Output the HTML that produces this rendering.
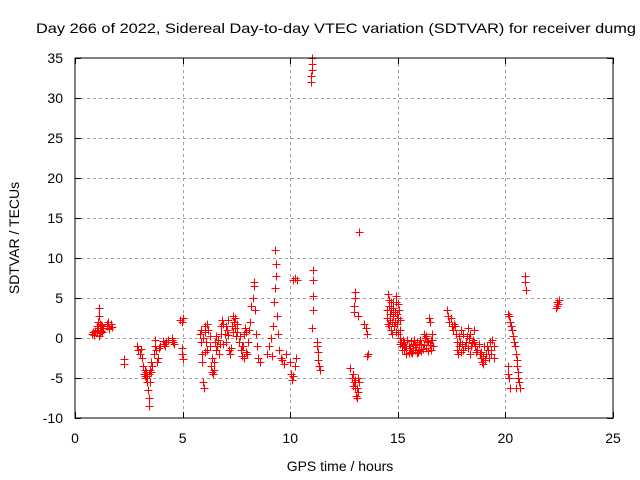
<!DOCTYPE html>
<html><head><meta charset="utf-8"><style>
html,body{margin:0;padding:0;background:#fff;}
svg{display:block;font-family:"Liberation Sans",Arial,sans-serif;}
</style></head><body>
<svg id="chart" width="640" height="480" viewBox="0 0 640 480">
<rect width="640" height="480" fill="#fff"/>
<text x="36" y="33" font-size="14" textLength="600" lengthAdjust="spacingAndGlyphs">Day 266 of 2022, Sidereal Day-to-day VTEC variation (SDTVAR) for receiver dumg</text>
<g id="grid"></g>
<g id="ticks"></g>
<g id="pts"></g>
<rect x="75" y="58" width="538" height="360" fill="none" stroke="#000" stroke-width="1"/>
<text x="340" y="471" font-size="14" text-anchor="middle">GPS time / hours</text>
<text transform="translate(19,238) rotate(-90)" font-size="14" text-anchor="middle">SDTVAR / TECUs</text>
</svg>
<script>
const xTicks=[0,5,10,15,20,25];
const yTicks=[-10,-5,0,5,10,15,20,25,30,35];
const hours=[0.80,0.85,0.9,0.95,1.0,1.02,1.05,1.08,1.1,1.12,1.15,1.18,1.2,1.25,1.3,1.5,1.55,1.6,1.65,1.7,
2.3,2.3,
2.9,2.95,3.0,3.05,3.1,3.15,3.2,3.25,3.3,3.35,3.4,3.42,3.45,3.5,3.55,3.6,3.65,3.7,3.72,3.75,3.8,3.85,3.9,3.95,
4.1,4.15,4.2,4.25,4.3,4.5,4.55,4.6,4.52,
4.9,4.95,5.0,4.95,4.98,5.0,
5.8,5.85,5.9,5.92,5.95,6.0,6.02,6.05,6.1,6.15,6.2,6.25,6.3,6.35,6.4,6.45,6.5,6.55,
6.6,6.7,6.75,6.8,6.85,6.9,6.95,7.0,7.05,7.1,7.15,7.2,7.3,7.35,7.4,7.45,7.5,7.55,7.6,7.7,7.75,7.8,7.85,7.9,7.95,
8.0,8.05,8.1,8.15,8.2,8.25,8.3,8.32,8.35,8.4,8.45,8.5,8.6,8.9,9.0,9.1,9.15,9.2,9.25,9.3,9.32,9.35,9.3,9.4,9.45,9.5,9.55,9.6,9.7,9.8,
10.0,10.05,10.1,10.15,10.2,10.25,10.15,10.22,10.3,
10.95,10.97,11.0,11.0,11.02,11.05,11.05,11.05,11.05,11.0,11.25,11.3,11.3,11.35,11.4,11.25,
12.8,12.85,12.9,12.95,13.0,13.05,13.1,13.15,13.2,13.0,13.0,12.95,12.97,13.15,13.2,13.45,13.5,13.55,13.55,13.6,
14.5,14.55,14.6,14.65,14.7,14.75,14.8,14.85,14.9,14.95,15.0,15.05,15.1,15.15,15.2,15.3,15.4,15.5,15.6,15.7,15.8,15.9,16.0,16.1,16.2,16.3,16.4,16.45,16.5,16.55,16.6,16.65,
14.6,14.7,14.8,14.9,15.0,15.1,15.25,15.35,15.45,15.55,15.65,15.75,15.85,15.95,16.05,16.15,16.25,16.35,16.55,
17.3,17.35,17.4,17.5,17.6,17.7,17.75,17.8,17.85,17.9,17.95,18.0,18.05,18.1,18.2,18.25,18.3,18.35,18.4,18.5,18.55,18.6,18.7,18.8,18.85,18.9,18.95,19.0,19.1,19.2,19.3,19.35,19.4,19.45,
20.1,20.15,20.2,20.25,20.3,20.35,20.4,20.45,20.5,20.52,20.55,20.6,20.65,20.7,20.6,20.1,20.12,20.15,20.2,20.5,20.9,20.92,20.95,
22.35,22.4,22.45,22.5,22.42,
14.52,14.55,14.58,14.62,14.68,14.72,14.78,14.82,14.88,14.92,14.97,15.02,15.08,15.12,15.18,15.22,
15.3,15.4,15.5,15.6,15.7,15.8,15.9,16.0,16.1,16.2,16.3,16.4,16.5,16.6,
17.45,17.55,17.65,17.75,17.85,17.95,18.05,18.15,18.25,18.35,18.45,18.55,18.65,18.75,18.85,18.95,19.05,19.15,19.25,19.35,19.45,
5.85,5.95,6.05,6.15,6.25,6.35,6.45,6.55,6.65,6.8,6.9,7.0,7.1,7.25,7.35,7.45,7.55,7.65,7.75,7.85,7.95,
3.25,3.3,3.35,3.45,3.5,3.55,
1.0,1.05,1.1,1.15,1.2,1.25,1.5,1.6,
12.9,13.0,13.1,13.15];
const sdtvar=[0.5,0.7,0.4,0.9,1.0,1.5,2.0,1.2,3.8,2.8,1.8,0.6,1.6,0.8,1.2,1.5,2.0,1.3,1.7,1.4,
-2.6,-3.2,
-1.0,-1.5,-2.0,-1.4,-2.5,-3.5,-4.5,-4.0,-5.0,-4.8,-6.5,-8.5,-7.5,-5.5,-4.2,-3.5,-2.0,-1.0,-0.3,-1.5,-3.0,-2.5,-1.2,-1.0,
-0.4,-0.8,-1.0,-0.5,-0.2,0,-0.5,-0.8,-0.2,
2.3,2.0,2.5,-1.2,-2.0,-2.6,
0.5,-0.5,-2.0,-3.0,-5.5,-6.3,1.5,0.8,-0.5,-1.5,1.0,0.2,-3.5,-4.2,-4.5,-3.0,-0.5,0.3,
-1.0,-2.0,-0.8,1.5,2.2,1.8,0.5,-0.5,1.0,0.4,-1.5,-2.0,1.5,2.8,2.0,1.2,0.2,0.8,-0.5,-1.5,-2.2,-1.0,0.5,1.2,-1.8,
-2.0,-0.5,1.0,2.0,4.0,5.0,6.5,7.0,3.5,0.5,-1.0,-2.5,-3.0,-2.0,-1.0,0,-2.2,1.5,4.5,6.2,7.8,9.2,11.0,2.7,0.5,-1.5,-2.5,-2.8,-3.2,-2.0,
-3.0,-4.5,-5.2,-4.8,-3.5,-2.5,7.2,7.5,7.3,
32.0,32.8,33.5,34.3,35.0,8.5,7.2,5.2,3.5,1.3,-1.0,-1.8,-2.8,-3.5,-4.0,-0.5,
-3.8,-5.0,-6.0,-5.5,-6.2,-7.2,-7.5,-6.8,-5.5,5.8,5.0,4.0,3.2,2.8,13.3,1.8,1.2,0.5,-2.3,-2.0,
2.5,5.5,4.0,3.0,1.0,0.5,4.5,2.0,5.3,3.0,2.5,3.5,1.0,-0.5,-1.0,-1.5,-2.0,-1.0,-1.8,-0.8,-1.5,-0.5,-1.5,-0.8,0.5,-1.2,-0.5,2.5,2.0,-0.3,0.5,-1.0,
1.5,3.5,2.8,0.8,4.2,0,-0.8,-1.0,-0.3,-1.2,-1.9,-0.2,-1.1,-1.8,-0.3,-1.4,0,-0.4,-1.5,
3.5,2.8,2.0,1.5,1.8,0.5,-1.5,-2.0,0.2,-0.5,1.0,-0.8,-1.5,-1.0,0.2,1.2,0,-2.0,-1.0,-0.2,1.0,-1.0,-1.5,-2.0,-2.5,-3.0,-2.2,-1.0,-2.0,-1.5,-0.5,-1.5,-0.2,-2.5,
3.0,2.8,2.0,1.5,1.0,0.2,-0.5,-1.0,-2.0,-2.8,-3.5,-4.2,-5.5,-6.3,-5.0,-3.5,-4.5,-5.0,-6.2,-6.3,7.8,7.0,6.0,
3.8,4.5,4.2,4.8,4.0,
3.5,1.8,4.8,2.2,4.5,2.0,3.8,1.5,3.2,4.5,1.8,0.5,2.2,-0.8,-1.5,-0.2,
-0.5,-1.3,-1.9,-0.4,-1.5,-0.9,-1.9,-0.7,-1.6,-0.9,0.2,-1.6,-0.9,-0.2,
2.5,1.0,1.5,-0.5,-1.0,-1.8,0.5,-0.5,-1.2,0.5,-0.6,-0.5,-1.8,-0.8,-1.8,-3.2,-2.8,-1.0,-2.5,-2.0,-1.0,
1.0,0,-1.8,1.8,-1.0,-2.5,-4.0,-1.5,-0.2,0.5,-0.8,1.5,2.2,-1.2,0.8,2.5,1.8,0.2,-1.0,-2.5,0.8,
-4.8,-4.2,-5.5,-4.5,-4.0,-3.0,
0.8,1.2,0.3,1.0,0.9,1.5,1.8,1.1,
-4.5,-5.2,-6.3,-5.0];

const NS="http://www.w3.org/2000/svg";
const X0=75,X1=613,Y0=418,Y1=58;
function xs(v){return X0+(v-0)/(25-0)*(X1-X0);}
function ys(v){return Y0-(v+10)/(35+10)*(Y0-Y1);}
function mk(tag,attrs,parent){const e=document.createElementNS(NS,tag);for(const k in attrs)e.setAttribute(k,attrs[k]);parent.appendChild(e);return e;}
const grid=document.getElementById('grid'),ticks=document.getElementById('ticks'),pts=document.getElementById('pts');
xTicks.forEach(t=>{
  const x=Math.round(xs(t))+0.5;
  if(t>0&&t<25){const g=mk('line',{x1:x,x2:x,y1:Y1,y2:Y0,stroke:'#a0a0a0','stroke-dasharray':'3,3'},grid);
  
  }
  const a=mk('line',{x1:x,x2:x,y1:Y0,y2:Y0-6,stroke:'#000'},ticks);
  
  
  const b=mk('line',{x1:x,x2:x,y1:Y1,y2:Y1+6,stroke:'#000'},ticks);
  
  
  const l=mk('text',{x:xs(t),y:443,'font-size':14,'text-anchor':'middle'},ticks);
  l.textContent=t;
  
  
});
yTicks.forEach(t=>{
  const y=Math.round(ys(t))+0.5;
  if(t>-10&&t<35){const g=mk('line',{x1:X0,x2:X1,y1:y,y2:y,stroke:'#a0a0a0','stroke-dasharray':'3,3'},grid);
  
  }
  const a=mk('line',{x1:X0,x2:X0+6,y1:y,y2:y,stroke:'#000'},ticks);
  
  
  const b=mk('line',{x1:X1,x2:X1-6,y1:y,y2:y,stroke:'#000'},ticks);
  
  
  const l=mk('text',{x:63,y:ys(t)+5,'font-size':14,'text-anchor':'end'},ticks);
  l.textContent=t;
  
  
});
let d='';
for(let i=0;i<hours.length;i++){
  const x=Math.round(xs(hours[i]))+0.5,y=Math.round(ys(sdtvar[i]))+0.5;
  d+=`M${x-4},${y}H${x+4}M${x},${y-4}V${y+4}`;
}
const p=mk('path',{d:d,stroke:'#ff0000','stroke-width':1,fill:'none'},pts);


</script>
</body></html>
